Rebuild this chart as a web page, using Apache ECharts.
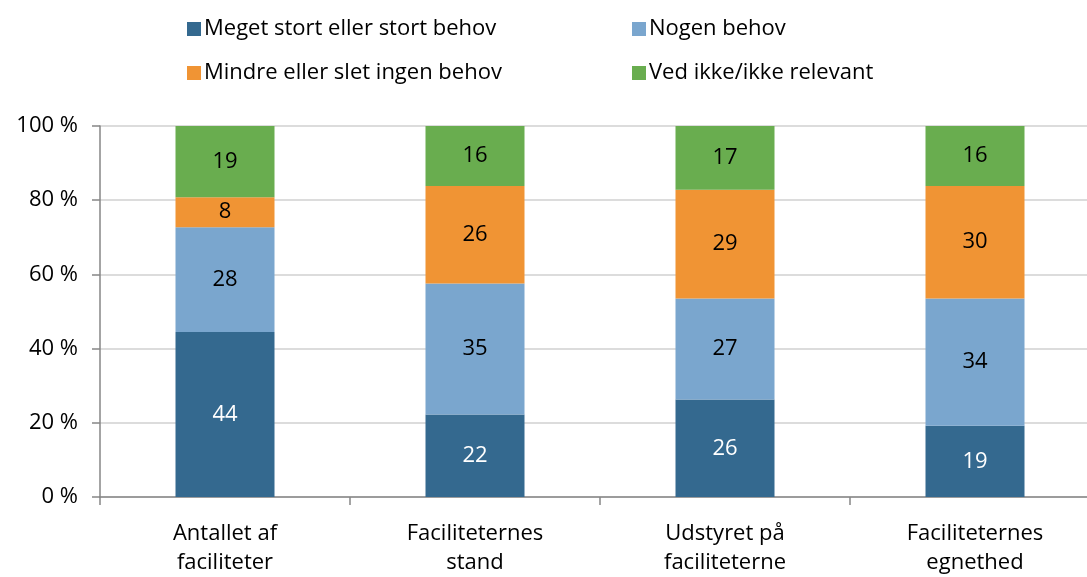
<!DOCTYPE html>
<html>
<head>
<meta charset="utf-8">
<script src="https://cdn.jsdelivr.net/npm/echarts@6/dist/echarts.min.js"></script>
<style>html,body{margin:0;padding:0;background:#fff}#c{width:1087px;height:577px}</style>
</head>
<body>
<div id="c"></div>
<script>
var categories = ['Antallet af\nfaciliteter', 'Faciliteternes\nstand', 'Udstyret på\nfaciliteterne', 'Faciliteternes\negnethed'];
var seriesNames = ['Meget stort eller stort behov', 'Nogen behov', 'Mindre eller slet ingen behov', 'Ved ikke/ikke relevant'];
var storBehov = [44, 22, 26, 19];
var nogenBehov = [28, 35, 27, 34];
var mindreBehov = [8, 26, 29, 30];
var vedIkke = [19, 16, 17, 16];
var yTicks = [0, 20, 40, 60, 80, 100];

var raw = [storBehov, nogenBehov, mindreBehov, vedIkke];
var colors = ['#34698F', '#7AA6CE', '#F09434', '#69AD4F'];
var labelColors = ['#ffffff', '#000000', '#000000', '#000000'];
var FONT = 'Open Sans';
var FS = 22;
var totals = categories.map(function (_, i) {
  return raw.reduce(function (s, arr) { return s + arr[i]; }, 0);
});

var series = raw.map(function (arr, k) {
  return {
    name: seriesNames[k],
    type: 'bar',
    stack: 'all',
    barWidth: 99,
    itemStyle: { color: colors[k] },
    emphasis: { disabled: true },
    label: {
      show: true,
      position: 'inside',
      color: labelColors[k],
      fontFamily: FONT,
      fontSize: FS,
      formatter: function (p) { return arr[p.dataIndex]; }
    },
    data: arr.map(function (v, i) { return v / totals[i] * 100; })
  };
});

var chart = echarts.init(document.getElementById('c'));
chart.setOption({
  animation: false,
  textStyle: { fontFamily: FONT },
  legend: [
    {
      orient: 'vertical', left: 182, top: 13, itemWidth: 14, itemHeight: 14, itemGap: 22,
      data: [seriesNames[0], seriesNames[2]],
      textStyle: { fontFamily: FONT, fontSize: FS, color: '#000', padding: [0, 0, 0, -2] },
      icon: 'rect', selectedMode: false
    },
    {
      orient: 'vertical', left: 627, top: 13, itemWidth: 14, itemHeight: 14, itemGap: 22,
      data: [seriesNames[1], seriesNames[3]],
      textStyle: { fontFamily: FONT, fontSize: FS, color: '#000', padding: [0, 0, 0, -2] },
      icon: 'rect', selectedMode: false
    }
  ],
  grid: { left: 100, width: 1000, top: 126, height: 371, containLabel: false, outerBoundsMode: 'none' },
  xAxis: {
    type: 'category',
    data: categories,
    axisLine: { lineStyle: { color: '#868686', width: 1.5 } },
    axisTick: { show: true, length: 8, lineStyle: { color: '#868686', width: 1.5 } },
    axisLabel: { color: '#000', fontFamily: FONT, fontSize: FS, lineHeight: 29, margin: 22 }
  },
  yAxis: {
    type: 'value',
    min: 0, max: 100, interval: 20,
    axisLine: { show: true, lineStyle: { color: '#868686', width: 1.5 } },
    axisTick: { show: true, length: 8, lineStyle: { color: '#868686', width: 1.5 } },
    splitLine: { lineStyle: { color: '#D0D0D0', width: 1.5 } },
    axisLabel: {
      color: '#000', fontFamily: FONT, fontSize: FS, margin: 22,
      formatter: function (v) { return yTicks.indexOf(v) >= 0 ? v + ' %' : ''; }
    }
  },
  series: series
});
</script>
</body>
</html>
